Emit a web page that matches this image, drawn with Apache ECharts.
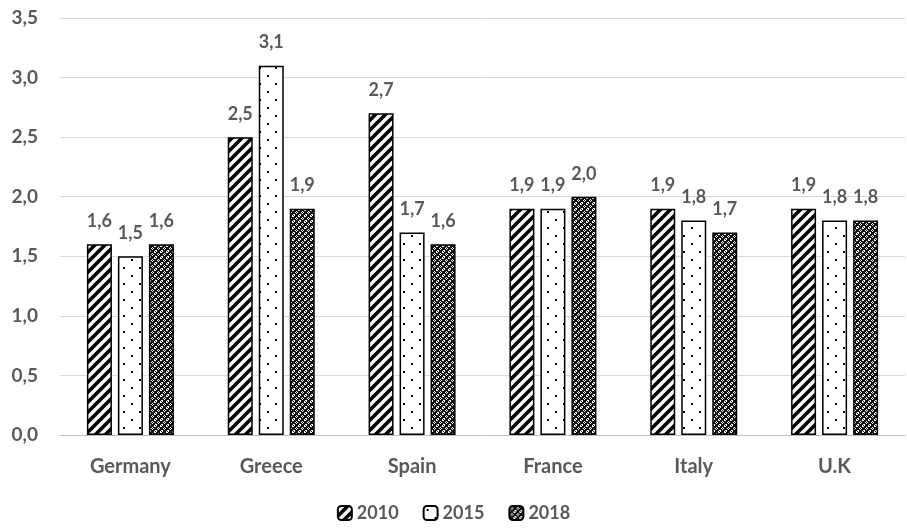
<!DOCTYPE html>
<html><head><meta charset="utf-8">
<script src="https://cdn.jsdelivr.net/npm/echarts@6/dist/echarts.min.js"></script>
<style>html,body{margin:0;padding:0;background:#fff}#c{width:907px;height:529px}</style>
</head><body><div id="c"></div>
<script>
const categories = ['Germany','Greece','Spain','France','Italy','U.K'];
const seriesNames = ['2010','2015','2018'];
const v2010 = [1.6, 2.5, 2.7, 1.9, 1.9, 1.9];
const v2015 = [1.5, 3.1, 1.7, 1.9, 1.8, 1.8];
const v2018 = [1.6, 1.9, 1.6, 2.0, 1.7, 1.8];

function mk(w,h,draw){const c=document.createElement('canvas');c.width=w;c.height=h;const g=c.getContext('2d');draw(g);return c;}
const stripe = mk(10,10,g=>{g.fillStyle='#fff';g.fillRect(0,0,10,10);g.strokeStyle='#000';g.lineWidth=3.6;
  g.beginPath();g.moveTo(-2,12);g.lineTo(12,-2);g.moveTo(-7,7);g.lineTo(7,-7);g.moveTo(3,17);g.lineTo(17,3);g.stroke();});
const dots = mk(16,16,g=>{g.fillStyle='#fff';g.fillRect(0,0,16,16);g.fillStyle='#000';g.fillRect(3,3,2,2);g.fillRect(11,11,2,2);});
const cross = mk(6,6,g=>{g.fillStyle='#111';g.fillRect(0,0,6,6);g.fillStyle='#fff';
  g.fillRect(1,2,1,1);g.fillRect(2,1,1,1);g.fillRect(2,3,1,1);g.fillRect(3,2,1,1);
  g.fillRect(4,5,1,1);g.fillRect(5,4,1,1);g.fillRect(4,0,1,1);g.fillRect(0,4,1,1);g.fillRect(5,0,1,1);g.fillRect(0,5,1,1);});
const patterns = [stripe, dots, cross];
const values = [v2010, v2015, v2018];

const chart = echarts.init(document.getElementById('c'));
const fmt = v => v.toFixed(1).replace('.', ',');
const font = 'Lato, "Open Sans", sans-serif';
chart.setOption({
  animation:false,
  grid:{left:60,right:2,top:18,bottom:94},
  legend:{bottom:2,left:'center',itemWidth:14,itemHeight:14,itemGap:24,
    textStyle:{color:'#595959',fontWeight:'bold',fontSize:18,fontFamily:font}},
  xAxis:{type:'category',data:categories,
    axisLine:{lineStyle:{color:'#bfbfbf',width:1}},axisTick:{show:false},
    axisLabel:{color:'#595959',fontWeight:'bold',fontSize:20,fontFamily:font,margin:22}},
  yAxis:{type:'value',min:0,max:3.5,interval:0.5,
    axisLabel:{formatter:fmt,color:'#595959',fontWeight:'bold',fontSize:19,fontFamily:font,margin:22},
    splitLine:{lineStyle:{color:'#d9d9d9',width:1}},axisLine:{show:false},axisTick:{show:false}},
  series: seriesNames.map((n,i)=>({
    name:n,type:'bar',data:values[i],barWidth:25,barGap:'24%',
    itemStyle:{color:{image:patterns[i],repeat:'repeat'},borderColor:'#000',borderWidth:1.5},
    label:{show:true,position:'top',distance:14,formatter:p=>fmt(p.value),
      color:'#595959',fontWeight:'bold',fontSize:18,fontFamily:font}
  }))
});
</script></body></html>
